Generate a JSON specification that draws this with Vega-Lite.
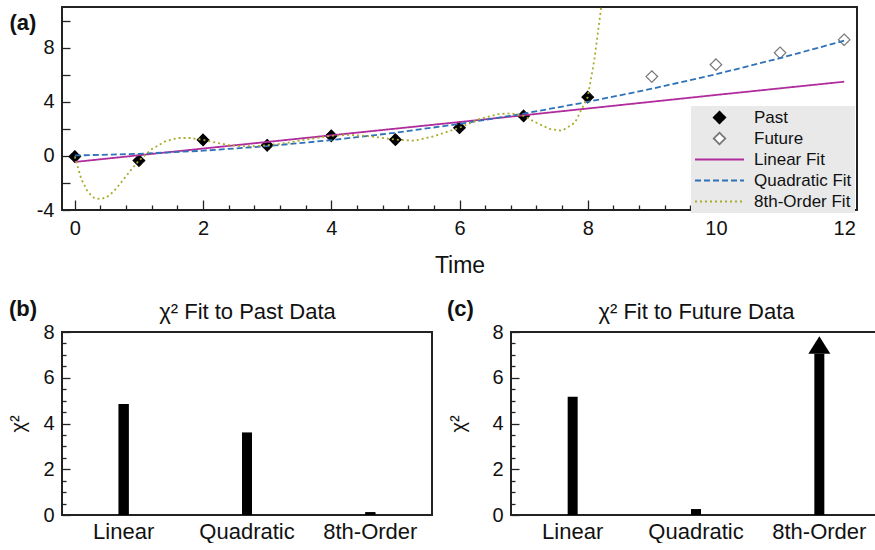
{
  "$schema": "https://vega.github.io/schema/vega-lite/v6.json",
  "background": "white",
  "padding": {"left": 7, "top": 6, "right": 0, "bottom": 0},
  "bounds": "flush",
  "spacing": 122,
  "config": {
    "font": "Liberation Sans",
    "view": {"stroke": "#222", "strokeWidth": 2},
    "axis": {
      "domain": false, "grid": false,
      "labelFont": "Liberation Sans", "labelFontSize": 20, "labelColor": "#111",
      "tickColor": "#222", "tickWidth": 1.3,
      "titleFont": "Liberation Sans", "titleFontWeight": "normal", "titleColor": "#111",
      "labelOverlap": false, "labelFlush": false, "labelBound": false
    },
    "title": {"font": "Liberation Sans", "color": "#111"}
  },
  "datasets": {
    "obs": [
      {"t": 0, "y": -0.05, "series": "Past"},
      {"t": 1, "y": -0.35, "series": "Past"},
      {"t": 2, "y": 1.18, "series": "Past"},
      {"t": 3, "y": 0.78, "series": "Past"},
      {"t": 4, "y": 1.48, "series": "Past"},
      {"t": 5, "y": 1.2, "series": "Past"},
      {"t": 6, "y": 2.08, "series": "Past"},
      {"t": 7, "y": 2.95, "series": "Past"},
      {"t": 8, "y": 4.34, "series": "Past"},
      {"t": 9, "y": 5.86, "series": "Future"},
      {"t": 10, "y": 6.74, "series": "Future"},
      {"t": 11, "y": 7.62, "series": "Future"},
      {"t": 12, "y": 8.58, "series": "Future"}
    ],
    "fits": [
      {"t": 0, "y": -0.45, "series": "Linear Fit"},
      {"t": 2, "y": 0.54, "series": "Linear Fit"},
      {"t": 4, "y": 1.52, "series": "Linear Fit"},
      {"t": 6, "y": 2.5, "series": "Linear Fit"},
      {"t": 8, "y": 3.5, "series": "Linear Fit"},
      {"t": 10, "y": 4.5, "series": "Linear Fit"},
      {"t": 12, "y": 5.48, "series": "Linear Fit"},
      {"t": 0, "y": 0.03, "series": "Quadratic Fit"},
      {"t": 1, "y": 0.15, "series": "Quadratic Fit"},
      {"t": 2, "y": 0.38, "series": "Quadratic Fit"},
      {"t": 3, "y": 0.72, "series": "Quadratic Fit"},
      {"t": 4, "y": 1.16, "series": "Quadratic Fit"},
      {"t": 5, "y": 1.71, "series": "Quadratic Fit"},
      {"t": 6, "y": 2.36, "series": "Quadratic Fit"},
      {"t": 7, "y": 3.12, "series": "Quadratic Fit"},
      {"t": 8, "y": 3.99, "series": "Quadratic Fit"},
      {"t": 9, "y": 4.96, "series": "Quadratic Fit"},
      {"t": 10, "y": 6.03, "series": "Quadratic Fit"},
      {"t": 11, "y": 7.22, "series": "Quadratic Fit"},
      {"t": 12, "y": 8.51, "series": "Quadratic Fit"},
      {"t": 0, "y": -0.05, "series": "8th-Order Fit"},
      {"t": 0.1, "y": -1.7, "series": "8th-Order Fit"},
      {"t": 0.2, "y": -2.65, "series": "8th-Order Fit"},
      {"t": 0.3, "y": -3.1, "series": "8th-Order Fit"},
      {"t": 0.4, "y": -3.2, "series": "8th-Order Fit"},
      {"t": 0.5, "y": -3.05, "series": "8th-Order Fit"},
      {"t": 0.6, "y": -2.65, "series": "8th-Order Fit"},
      {"t": 0.7, "y": -2.1, "series": "8th-Order Fit"},
      {"t": 0.8, "y": -1.5, "series": "8th-Order Fit"},
      {"t": 0.9, "y": -0.9, "series": "8th-Order Fit"},
      {"t": 1.0, "y": -0.35, "series": "8th-Order Fit"},
      {"t": 1.2, "y": 0.5, "series": "8th-Order Fit"},
      {"t": 1.4, "y": 1.05, "series": "8th-Order Fit"},
      {"t": 1.6, "y": 1.32, "series": "8th-Order Fit"},
      {"t": 1.8, "y": 1.32, "series": "8th-Order Fit"},
      {"t": 2.0, "y": 1.18, "series": "8th-Order Fit"},
      {"t": 2.2, "y": 0.98, "series": "8th-Order Fit"},
      {"t": 2.4, "y": 0.8, "series": "8th-Order Fit"},
      {"t": 2.6, "y": 0.72, "series": "8th-Order Fit"},
      {"t": 2.8, "y": 0.72, "series": "8th-Order Fit"},
      {"t": 3.0, "y": 0.78, "series": "8th-Order Fit"},
      {"t": 3.3, "y": 0.95, "series": "8th-Order Fit"},
      {"t": 3.6, "y": 1.2, "series": "8th-Order Fit"},
      {"t": 4.0, "y": 1.48, "series": "8th-Order Fit"},
      {"t": 4.3, "y": 1.55, "series": "8th-Order Fit"},
      {"t": 4.6, "y": 1.45, "series": "8th-Order Fit"},
      {"t": 5.0, "y": 1.2, "series": "8th-Order Fit"},
      {"t": 5.3, "y": 1.12, "series": "8th-Order Fit"},
      {"t": 5.6, "y": 1.45, "series": "8th-Order Fit"},
      {"t": 6.0, "y": 2.08, "series": "8th-Order Fit"},
      {"t": 6.3, "y": 2.7, "series": "8th-Order Fit"},
      {"t": 6.6, "y": 3.08, "series": "8th-Order Fit"},
      {"t": 6.8, "y": 3.14, "series": "8th-Order Fit"},
      {"t": 7.0, "y": 2.95, "series": "8th-Order Fit"},
      {"t": 7.2, "y": 2.45, "series": "8th-Order Fit"},
      {"t": 7.4, "y": 2.0, "series": "8th-Order Fit"},
      {"t": 7.6, "y": 1.86, "series": "8th-Order Fit"},
      {"t": 7.8, "y": 2.45, "series": "8th-Order Fit"},
      {"t": 8.0, "y": 4.34, "series": "8th-Order Fit"},
      {"t": 8.1, "y": 7.0, "series": "8th-Order Fit"},
      {"t": 8.2, "y": 10.6, "series": "8th-Order Fit"},
      {"t": 8.3, "y": 15, "series": "8th-Order Fit"}
    ],
    "past_chi": [
      {"model": "Linear", "chi2": 4.85},
      {"model": "Quadratic", "chi2": 3.6},
      {"model": "8th-Order", "chi2": 0.12}
    ],
    "future_chi": [
      {"model": "Linear", "chi2": 5.17, "offscale": false},
      {"model": "Quadratic", "chi2": 0.26, "offscale": false},
      {"model": "8th-Order", "chi2": 7.05, "offscale": true}
    ]
  },
  "vconcat": [
    {
      "width": 795,
      "height": 203,
      "resolve": {"axis": {"x": "independent", "y": "independent"}},
      "layer": [
        {
          "data": {"name": "obs"},
          "mark": {"type": "point", "filled": true, "size": 2401, "strokeWidth": 1.2, "opacity": 1},
          "encoding": {
            "x": {
              "field": "t", "type": "quantitative",
              "scale": {"domain": [-0.2, 12.2], "nice": false, "zero": false},
              "axis": {
                "orient": "bottom",
                "values": [0, 2, 4, 6, 8, 10, 12],
                "tickSize": -10,
                "labelPadding": 18,
                "title": "Time", "titleFontSize": 23, "titlePadding": 16
              }
            },
            "y": {
              "field": "y", "type": "quantitative",
              "scale": {"domain": [-4, 11], "nice": false, "zero": false},
              "axis": {
                "orient": "left",
                "values": [-4, 0, 4, 8],
                "labelExpr": "'' + datum.value",
                "tickSize": -8,
                "labelPadding": 16,
                "title": "(a)", "titleFontSize": 22, "titleFontWeight": "bold",
                "titleAngle": 0, "titleX": -53, "titleY": 22,
                "titleAlign": "left", "titleBaseline": "alphabetic"
              }
            },
            "shape": {
              "field": "series", "type": "nominal",
              "scale": {
                "domain": ["Past", "Future", "Linear Fit", "Quadratic Fit", "8th-Order Fit"],
                "range": ["M0,-0.235L0.235,0L0,0.235L-0.235,0Z", "M0,-0.235L0.235,0L0,0.235L-0.235,0Z", "M-1,0H1", "M-1,0H1", "M-1,0H1"]
              },
              "legend": {
                "orient": "none", "legendX": 629, "legendY": 99,
                "title": null, "columns": 1, "fillColor": "#e9e9e9", "padding": 3,
                "labelFont": "Liberation Sans", "labelFontSize": 17, "labelColor": "#111",
                "labelOffset": 9, "clipHeight": 17, "rowPadding": 3,
                "symbolSize": 2401, "symbolStrokeWidth": 1.8, "labelLimit": 0
              }
            },
            "fill": {
              "field": "series", "type": "nominal",
              "scale": {
                "domain": ["Past", "Future", "Linear Fit", "Quadratic Fit", "8th-Order Fit"],
                "range": ["#000000", "#ffffff", "transparent", "transparent", "transparent"]
              }
            },
            "stroke": {
              "field": "series", "type": "nominal",
              "scale": {
                "domain": ["Past", "Future", "Linear Fit", "Quadratic Fit", "8th-Order Fit"],
                "range": ["#000000", "#777777", "#b02c9c", "#2f72b8", "#a9ab2a"]
              }
            },
            "strokeDash": {
              "field": "series", "type": "nominal",
              "scale": {
                "domain": ["Past", "Future", "Linear Fit", "Quadratic Fit", "8th-Order Fit"],
                "range": [[1, 0], [1, 0], [1, 0], [6, 3], [2, 3]]
              }
            }
          }
        },
        {
          "data": {"name": "fits"},
          "mark": {"type": "line", "strokeWidth": 1.8, "clip": true},
          "encoding": {
            "x": {
              "field": "t", "type": "quantitative",
              "axis": {
                "orient": "bottom",
                "values": [0.4,0.8,1.2,1.6,2.4,2.8,3.2,3.6,4.4,4.8,5.2,5.6,6.4,6.8,7.2,7.6,8.4,8.8,9.2,9.6,10.4,10.8,11.2,11.6],
                "labels": false, "tickSize": -5, "title": null
              }
            },
            "y": {
              "field": "y", "type": "quantitative",
              "axis": {
                "orient": "left",
                "values": [-2, 2, 6, 10],
                "labels": false, "tickSize": -8, "title": null
              }
            },
            "stroke": {
              "field": "series", "type": "nominal",
              "scale": {
                "domain": ["Past", "Future", "Linear Fit", "Quadratic Fit", "8th-Order Fit"],
                "range": ["#000000", "#777777", "#b02c9c", "#2f72b8", "#a9ab2a"]
              },
              "legend": null
            },
            "strokeDash": {
              "field": "series", "type": "nominal",
              "scale": {
                "domain": ["Past", "Future", "Linear Fit", "Quadratic Fit", "8th-Order Fit"],
                "range": [[1, 0], [1, 0], [1, 0], [6, 3], [2, 3]]
              },
              "legend": null
            }
          }
        }
      ]
    },
    {
      "bounds": "flush",
      "spacing": 79,
      "hconcat": [
        {
          "width": 370,
          "height": 183,
          "title": {"text": "(b)", "anchor": "start", "frame": "group", "dx": -53, "dy": 21, "fontSize": 22, "fontWeight": "bold", "offset": 0},
          "data": {"name": "past_chi"},
          "resolve": {"axis": {"y": "independent"}},
          "layer": [
            {
              "mark": {"type": "bar", "size": 10, "color": "#000000", "clip": true},
              "encoding": {
                "x": {
                  "field": "model", "type": "nominal",
                  "scale": {"domain": ["Linear", "Quadratic", "8th-Order"], "paddingInner": 0, "paddingOuter": 0},
                  "axis": {
                    "ticks": false, "labelPadding": 6, "labelFontSize": 22, "labelAngle": 0,
                    "title": "χ² Fit to Past Data", "titleFontSize": 22, "titleAngle": 0,
                    "titleX": 185, "titleY": -197, "titleAlign": "center", "titleBaseline": "alphabetic"
                  }
                },
                "y": {
                  "field": "chi2", "type": "quantitative",
                  "scale": {"domain": [0, 8], "nice": false},
                  "axis": {
                    "orient": "left",
                    "values": [0, 2, 4, 6, 8],
                    "tickSize": -8,
                    "labelPadding": 16,
                    "title": "χ²", "titleFontSize": 20, "titlePadding": 14
                  }
                }
              }
            },
            {
              "mark": {"type": "bar", "size": 10, "color": "#000000", "clip": true},
              "encoding": {
                "x": {
                  "field": "model", "type": "nominal",
                  "scale": {"domain": ["Linear", "Quadratic", "8th-Order"], "paddingInner": 0, "paddingOuter": 0},
                  "axis": {
                    "ticks": false, "labelPadding": 6, "labelFontSize": 22, "labelAngle": 0,
                    "title": "χ² Fit to Past Data", "titleFontSize": 22, "titleAngle": 0,
                    "titleX": 185, "titleY": -197, "titleAlign": "center", "titleBaseline": "alphabetic"
                  }
                },
                "y": {
                  "field": "chi2", "type": "quantitative",
                  "axis": {
                    "orient": "left",
                    "values": [0.5,1,1.5,2.5,3,3.5,4.5,5,5.5,6.5,7,7.5],
                    "labels": false, "tickSize": -4, "title": null
                  }
                }
              }
            }
          ]
        },
        {
          "width": 370,
          "height": 183,
          "title": {"text": "(c)", "anchor": "start", "frame": "group", "dx": -64, "dy": 21, "fontSize": 22, "fontWeight": "bold", "offset": 0},
          "data": {"name": "future_chi"},
          "resolve": {"axis": {"y": "independent"}},
          "layer": [
            {
              "mark": {"type": "bar", "size": 10, "color": "#000000", "clip": true},
              "encoding": {
                "x": {
                  "field": "model", "type": "nominal",
                  "scale": {"domain": ["Linear", "Quadratic", "8th-Order"], "paddingInner": 0, "paddingOuter": 0},
                  "axis": {
                    "ticks": false, "labelPadding": 6, "labelFontSize": 22, "labelAngle": 0,
                    "title": "χ² Fit to Future Data", "titleFontSize": 22, "titleAngle": 0,
                    "titleX": 185, "titleY": -197, "titleAlign": "center", "titleBaseline": "alphabetic"
                  }
                },
                "y": {
                  "field": "chi2", "type": "quantitative",
                  "scale": {"domain": [0, 8], "nice": false},
                  "axis": {
                    "orient": "left",
                    "values": [0, 2, 4, 6, 8],
                    "tickSize": -8,
                    "labelPadding": 16,
                    "title": "χ²", "titleFontSize": 20, "titlePadding": 23
                  }
                }
              }
            },
            {
              "transform": [{"filter": "datum.offscale"}],
              "mark": {"type": "point", "shape": "M-1,0L1,0L0,-1.6Z", "size": 484, "filled": true, "color": "#000000", "opacity": 1, "strokeWidth": 0},
              "encoding": {
                "x": {
                  "field": "model", "type": "nominal",
                  "scale": {"domain": ["Linear", "Quadratic", "8th-Order"], "paddingInner": 0, "paddingOuter": 0},
                  "axis": {
                    "ticks": false, "labelPadding": 6, "labelFontSize": 22, "labelAngle": 0,
                    "title": "χ² Fit to Future Data", "titleFontSize": 22, "titleAngle": 0,
                    "titleX": 185, "titleY": -197, "titleAlign": "center", "titleBaseline": "alphabetic"
                  }
                },
                "y": {
                  "field": "chi2", "type": "quantitative",
                  "axis": {
                    "orient": "left",
                    "values": [0.5,1,1.5,2.5,3,3.5,4.5,5,5.5,6.5,7,7.5],
                    "labels": false, "tickSize": -4, "title": null
                  }
                }
              }
            }
          ]
        }
      ]
    }
  ]
}
